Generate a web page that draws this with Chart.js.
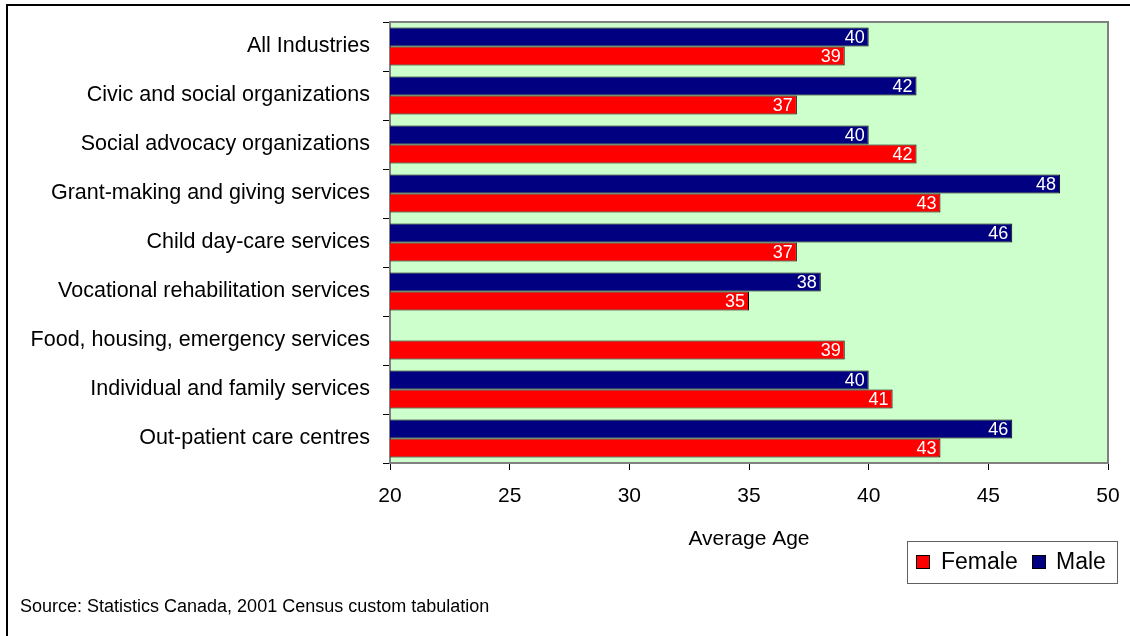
<!DOCTYPE html>
<html>
<head>
<meta charset="utf-8">
<script src="https://cdn.jsdelivr.net/npm/chart.js@4.4.0/dist/chart.umd.min.js"></script>
<style>
  html, body { margin: 0; padding: 0; background: #fff; }
  #wrap { width: 1130px; height: 636px; position: relative; }
</style>
</head>
<body>
<div id="wrap"><canvas id="ageChart" width="1130" height="636"></canvas></div>
<script>
// Average age by industry and sex
const industries = [
  'All Industries',
  'Civic and social organizations',
  'Social advocacy organizations',
  'Grant-making and giving services',
  'Child day-care services',
  'Vocational rehabilitation services',
  'Food, housing, emergency services',
  'Individual and family services',
  'Out-patient care centres'
];
const maleAge   = [40, 42, 40, 48, 46, 38, null, 40, 46];
const femaleAge = [39, 37, 42, 43, 37, 35, 39, 41, 43];
const ageTicks  = [20, 25, 30, 35, 40, 45, 50];

const FONT = 'Arial, "Liberation Sans", sans-serif';

// Frame, plot background, value labels, axis title, legend box and source note
const decorPlugin = {
  id: 'decor',
  beforeDraw(chart) {
    const ctx = chart.ctx;
    const a = chart.chartArea;
    ctx.save();
    ctx.fillStyle = '#fff';
    ctx.fillRect(0, 0, chart.width, chart.height);
    ctx.fillStyle = '#CCFFCC';
    ctx.fillRect(a.left, a.top, a.right - a.left, a.bottom - a.top);
    ctx.strokeStyle = '#808080';
    ctx.lineWidth = 2;
    ctx.beginPath();
    ctx.moveTo(a.left, a.top);
    ctx.lineTo(a.right, a.top);
    ctx.lineTo(a.right, a.bottom);
    ctx.stroke();
    // outer frame
    ctx.strokeStyle = '#000';
    ctx.lineWidth = 2;
    ctx.strokeRect(7, 5, 1200, 700);
    ctx.restore();
  },
  afterDatasetsDraw(chart) {
    const ctx = chart.ctx;
    ctx.save();
    ctx.font = '18px ' + FONT;
    ctx.fillStyle = '#fff';
    ctx.textAlign = 'right';
    ctx.textBaseline = 'middle';
    chart.data.datasets.forEach((ds, i) => {
      chart.getDatasetMeta(i).data.forEach((bar, j) => {
        const v = ds.data[j];
        if (v == null) return;
        ctx.fillText(String(v), bar.x - 4, bar.y + 1);
      });
    });
    ctx.restore();
  },
  afterDraw(chart) {
    const ctx = chart.ctx;
    const a = chart.chartArea;
    ctx.save();
    ctx.fillStyle = '#000';
    ctx.textBaseline = 'middle';
    // x axis title
    ctx.font = '21px ' + FONT;
    ctx.textAlign = 'center';
    ctx.fillText('Average Age', (a.left + a.right) / 2, 539);
    // legend
    ctx.strokeStyle = '#606060';
    ctx.lineWidth = 1;
    ctx.strokeRect(907.5, 541.5, 210, 42);
    const items = [['Female', '#FF0000', 916, 941], ['Male', '#000080', 1032, 1056]];
    ctx.font = '23px ' + FONT;
    ctx.textAlign = 'left';
    items.forEach(([name, color, x, tx]) => {
      ctx.fillStyle = color;
      ctx.fillRect(x, 555, 14, 14);
      ctx.strokeStyle = '#000';
      ctx.strokeRect(x + 0.5, 555.5, 13, 13);
      ctx.fillStyle = '#000';
      ctx.fillText(name, tx, 563);
    });
    // source note
    ctx.font = '18px ' + FONT;
    ctx.fillText('Source: Statistics Canada, 2001 Census custom tabulation', 20, 607);
    ctx.restore();
  }
};

new Chart(document.getElementById('ageChart'), {
  type: 'bar',
  data: {
    labels: industries,
    datasets: [
      {
        label: 'Male',
        data: maleAge,
        backgroundColor: '#000080',
        borderColor: '#000',
        borderWidth: 1,
        borderSkipped: false,
        categoryPercentage: 0.78,
        barPercentage: 1
      },
      {
        label: 'Female',
        data: femaleAge,
        backgroundColor: '#FF0000',
        borderColor: '#000',
        borderWidth: 1,
        borderSkipped: false,
        categoryPercentage: 0.78,
        barPercentage: 1
      }
    ]
  },
  options: {
    indexAxis: 'y',
    responsive: false,
    animation: false,
    layout: { padding: { top: 22, right: 22, left: 0, bottom: 0 } },
    plugins: {
      legend: { display: false },
      tooltip: { enabled: false }
    },
    scales: {
      x: {
        min: 20,
        max: 50,
        afterBuildTicks(scale) {
          scale.ticks = ageTicks.map(v => ({ value: v }));
        },
        afterFit(scale) {
          scale.height = 636 - 463;
          scale.paddingLeft = 0;
          scale.paddingRight = 0;
        },
        grid: {
          drawOnChartArea: false,
          tickLength: 7,
          color: '#000',
          lineWidth: 1
        },
        border: { color: '#808080', width: 2 },
        ticks: {
          color: '#000',
          font: { family: FONT, size: 21 },
          padding: 14
        }
      },
      y: {
        afterFit(scale) {
          scale.width = 390;
          scale.paddingTop = 0;
          scale.paddingBottom = 0;
        },
        grid: {
          offset: true,
          drawOnChartArea: false,
          tickLength: 7,
          color: '#000',
          lineWidth: 1
        },
        border: { color: '#808080', width: 2 },
        ticks: {
          color: '#000',
          font: { family: FONT, size: 21.5 },
          padding: 13
        }
      }
    }
  },
  plugins: [decorPlugin]
});
</script>
</body>
</html>
